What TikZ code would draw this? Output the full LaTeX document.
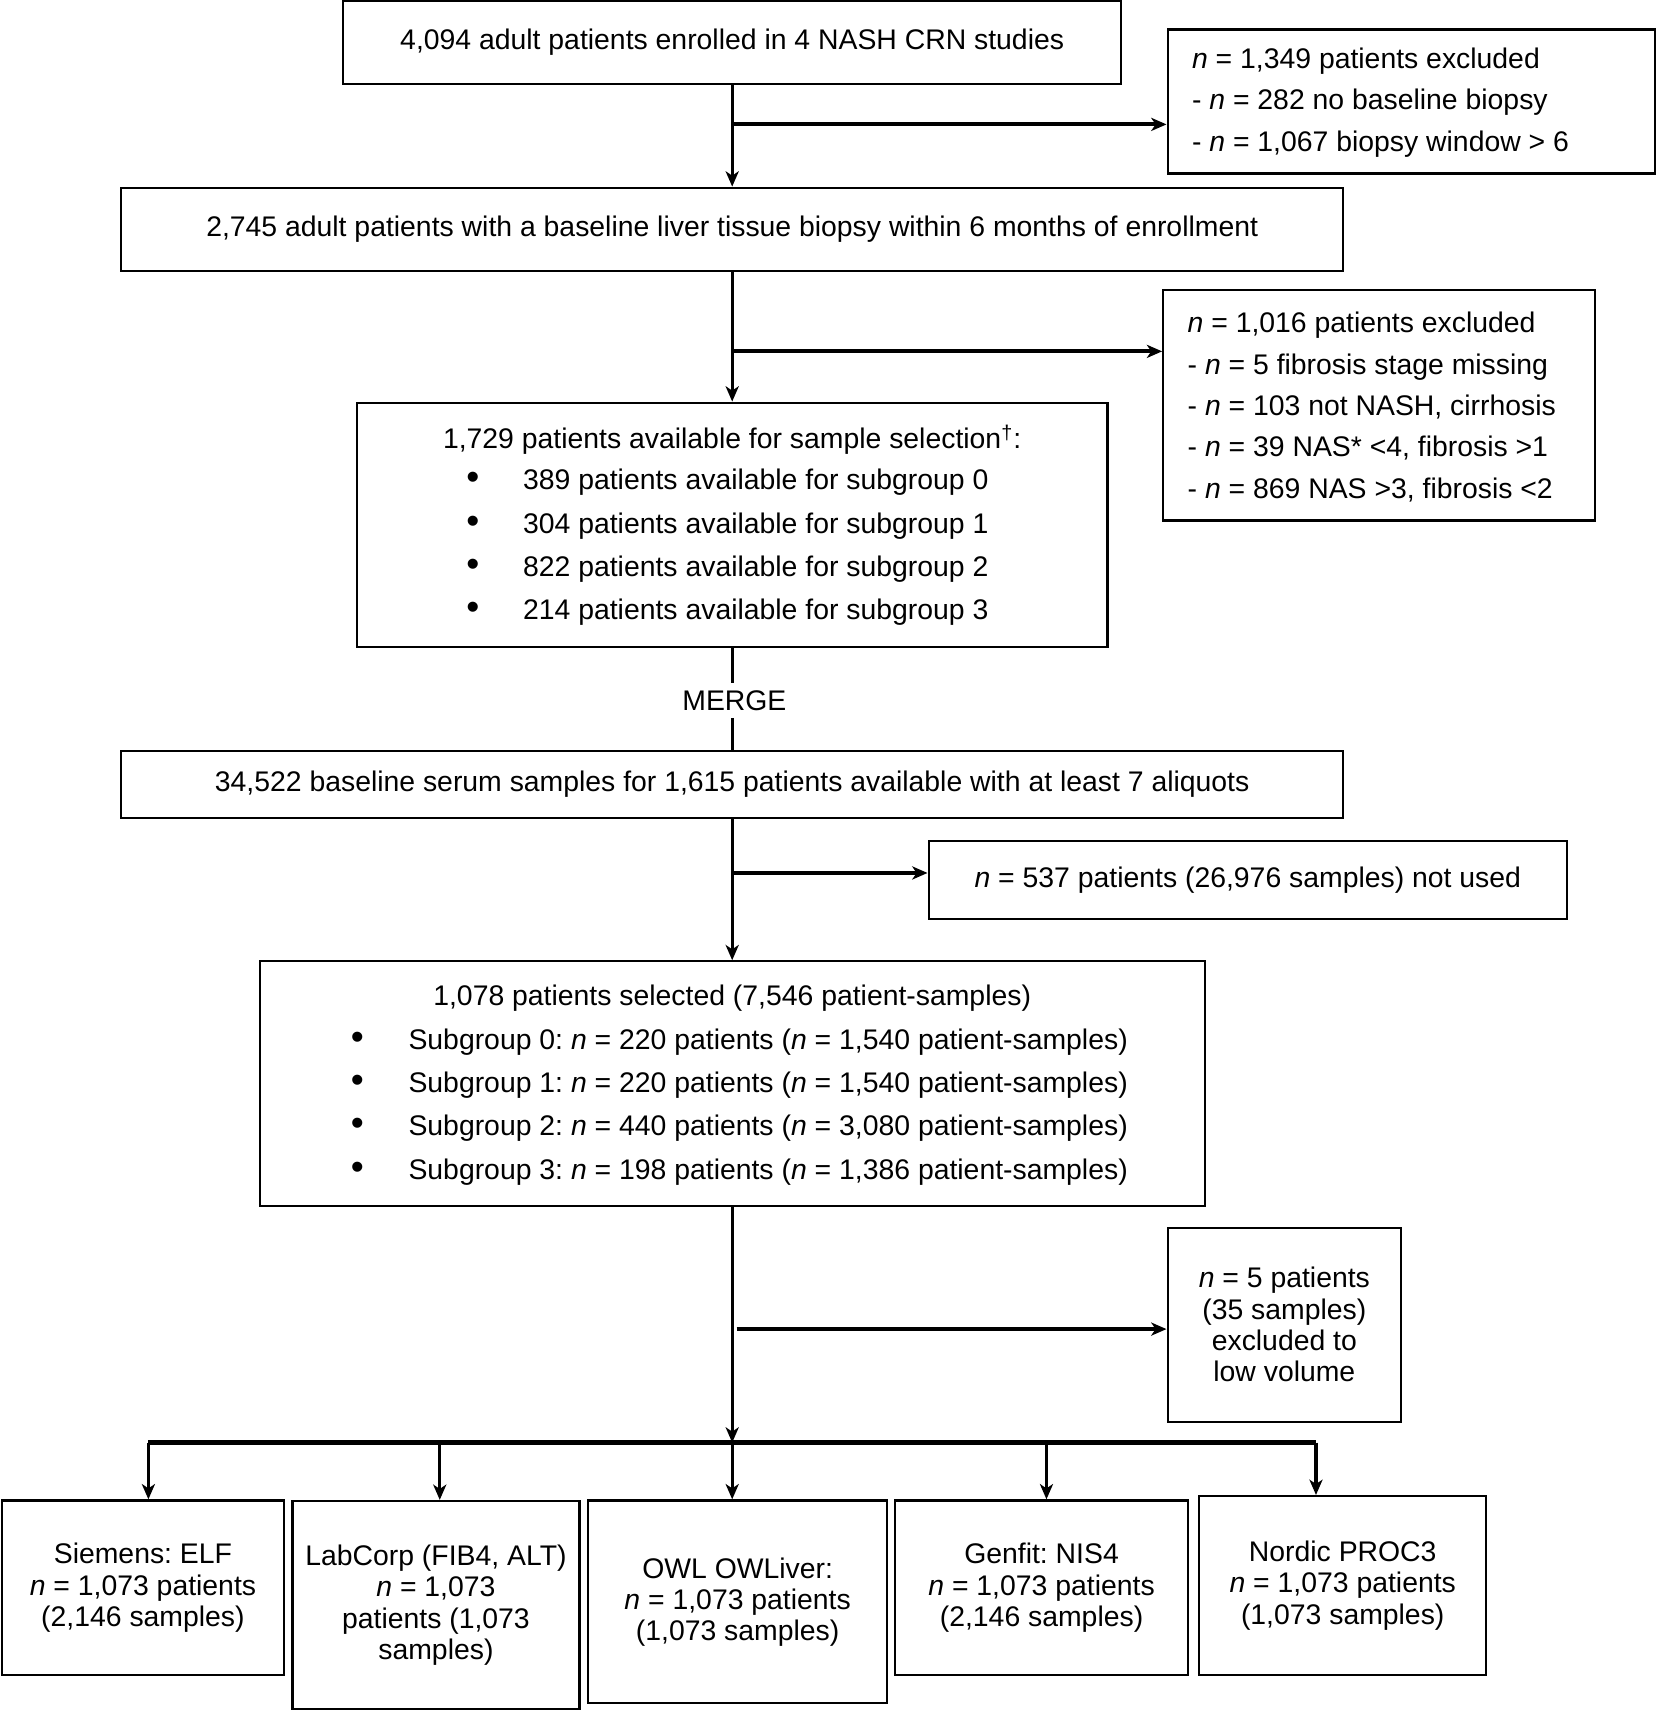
\documentclass[tikz,border=0pt]{standalone}
\usepackage{fontspec}
\setmainfont{Liberation Sans}
\usetikzlibrary{arrows.meta,calc}
\newcommand{\nn}{\textit{n}}
\newcommand{\fs}{\fontsize{13}{19}\selectfont}
\newcommand{\fsl}{\fontsize{13}{19.75}\selectfont}
\newcommand{\fsb}{\fontsize{13}{14.3}\selectfont}
\newcommand{\bul}[1]{\makebox[0pt]{{\fontsize{17}{17}\selectfont •}}\hspace{#1}}
\begin{document}
\frenchspacing
\begin{tikzpicture}[x=0.5pt,y=-0.5pt,
  box/.style={draw,line width=1pt,inner sep=0pt,align=center,font=\fs},
  bbox/.style={box,font=\fsb},
  txt/.style={inner sep=0pt,align=left,font=\fs},
  varr/.style={line width=1.4pt,-{Stealth[length=7pt,width=6pt,inset=2pt]}},
  harr/.style={line width=1.8pt,-{Stealth[length=7pt,width=6pt,inset=2pt]}},
  plain/.style={line width=1.4pt}]
\useasboundingbox (0,0) rectangle (1518,1568);

% top box
\node[box,minimum width=356.5pt,minimum height=38pt] (b1) at (671,39) {4,094 adult patients enrolled in 4 NASH CRN studies};
\node[box,minimum width=223.5pt,minimum height=66pt] (e1) at (1293.5,93) {};
\node[txt,anchor=west] (e1t) at (1092,94) {\nn{} = 1,349 patients excluded\\- \nn{} = 282 no baseline biopsy\\- \nn{} = 1,067 biopsy window > 6};

\node[box,minimum width=560pt,minimum height=38pt] (b2) at (671,210) {2,745 adult patients with a baseline liver tissue biopsy within 6 months of enrollment};
\node[box,minimum width=198pt,minimum height=105.5pt] (e2) at (1264,371.5) {};
\node[txt,anchor=west] (e2t) at (1088,373) {\nn{} = 1,016 patients excluded\\- \nn{} = 5 fibrosis stage missing\\- \nn{} = 103 not NASH, cirrhosis\\- \nn{} = 39 NAS* <4, fibrosis >1\\- \nn{} = 869 NAS >3, fibrosis <2};

\node[box,minimum width=344pt,minimum height=112pt] (b3) at (671,481) {};
\node[txt,font=\fsl] (b3t) at (671,403) {1,729 patients available for sample selection\textsuperscript{†}:};
\node[txt,font=\fsl,anchor=west] (b3l) at (433,501.5) {\bul{23pt}389 patients available for subgroup 0\\\bul{23pt}304 patients available for subgroup 1\\\bul{23pt}822 patients available for subgroup 2\\\bul{23pt}214 patients available for subgroup 3};

\node[fill=white,inner xsep=2pt,inner ysep=0pt,minimum height=15.5pt,font=\fs] (mg) at (673,642) {MERGE};

\node[box,minimum width=560pt,minimum height=31pt] (b4) at (671,719) {34,522 baseline serum samples for 1,615 patients available with at least 7 aliquots};
\node[box,minimum width=292.5pt,minimum height=35.5pt] (b5) at (1143.5,806.5) {\nn{} = 537 patients (26,976 samples) not used};

\node[box,minimum width=433pt,minimum height=112pt] (b6) at (671,993) {};
\node[txt,font=\fsl] (b6t) at (671,915) {1,078 patients selected (7,546 patient-samples)};
\node[txt,font=\fsl,anchor=west] (b6l) at (327,1014.5) {\bul{23.5pt}Subgroup 0: \nn{} = 220 patients (\nn{} = 1,540 patient-samples)\\\bul{23.5pt}Subgroup 1: \nn{} = 220 patients (\nn{} = 1,540 patient-samples)\\\bul{23.5pt}Subgroup 2: \nn{} = 440 patients (\nn{} = 3,080 patient-samples)\\\bul{23.5pt}Subgroup 3: \nn{} = 198 patients (\nn{} = 1,386 patient-samples)};

\node[box,font=\fontsize{13}{14.35}\selectfont,minimum width=107pt,minimum height=89pt] (b7) at (1177,1214) {\nn{} = 5 patients\\(35 samples)\\excluded to\\low volume};

% bottom boxes
\node[bbox,minimum width=129.5pt,minimum height=80pt] (c1) at (131,1455) {Siemens: ELF\\\nn{} = 1,073 patients\\(2,146 samples)};
\node[bbox,minimum width=131.5pt,minimum height=95.5pt] (c2) at (399.5,1471) {LabCorp (FIB4, ALT)\\\nn{} = 1,073\\patients (1,073\\samples)};
\node[bbox,minimum width=137pt,minimum height=93pt] (c3) at (676,1468) {OWL OWLiver:\\\nn{} = 1,073 patients\\(1,073 samples)};
\node[bbox,minimum width=134.5pt,minimum height=80pt] (c4) at (954.5,1455) {Genfit: NIS4\\\nn{} = 1,073 patients\\(2,146 samples)};
\node[bbox,minimum width=131.5pt,minimum height=82pt] (c5) at (1230.5,1453) {Nordic PROC3\\\nn{} = 1,073 patients\\(1,073 samples)};

% connectors
\draw[varr] (b1.south) -- (b2.north);
\coordinate (j1) at (671,114);
\draw[harr] (j1) -- (j1 -| e1.west);
\draw[varr] (b2.south) -- (b3.north);
\coordinate (j2) at (671,322);
\draw[harr] (j2) -- (j2 -| e2.west);
\draw[plain] (b3.south) -- (b3.south |- mg.north);
\draw[plain] (b3.south |- mg.south) -- (b4.north);
\draw[varr] (b4.south) -- (b6.north);
\coordinate (j3) at (671,800);
\draw[harr] (j3) -- (j3 -| b5.west);
\coordinate (bus) at (671,1322);
\draw[varr] (b6.south) -- (bus);
\coordinate (j4) at (675,1218);
\draw[harr] (j4) -- (j4 -| b7.west);
\coordinate (d1) at (136,1322);
\coordinate (d2) at (403,1322);
\coordinate (d3) at (671,1322);
\coordinate (d4) at (959,1322);
\coordinate (d5) at (1206,1322);
\draw[line width=2pt] (d1) -- (d5);
\draw[varr] (d1) -- (d1 |- c1.north);
\draw[varr] (d2) -- (d2 |- c2.north);
\draw[varr] (d3) -- (d3 |- c3.north);
\draw[varr] (d4) -- (d4 |- c4.north);
\draw[varr] (d5) -- (d5 |- c5.north);
\end{tikzpicture}
\end{document}
